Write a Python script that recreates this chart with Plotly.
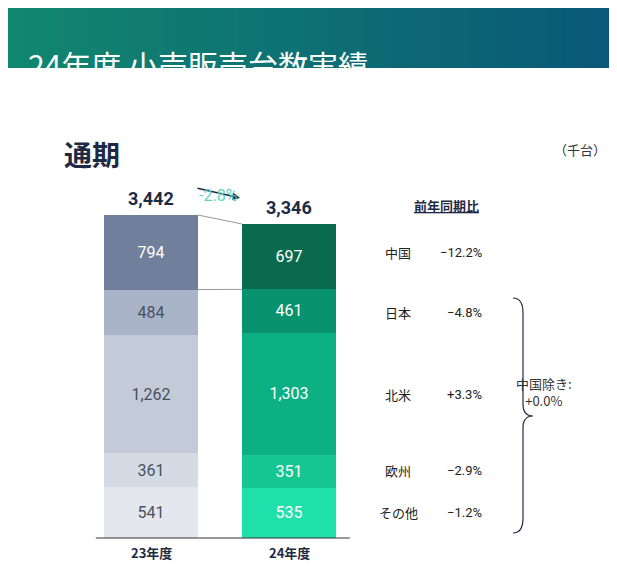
import plotly.graph_objects as go

years = ["23年度", "24年度"]
regions = ["その他", "欧州", "北米", "日本", "中国"]
v23 = [541, 361, 1262, 484, 794]
v24 = [535, 351, 1303, 461, 697]
totals = [3442, 3346]
yoy = ["−1.2%", "−2.9%", "+3.3%", "−4.8%", "−12.2%"]
c23 = ["#e4e8ee", "#d5dbe5", "#c3cbd8", "#a9b4c8", "#707f9b"]
c24 = ["#1fe0ab", "#16c792", "#0cb083", "#099270", "#0a6a4d"]
t23 = ["#4a5060", "#4a5060", "#4a5060", "#4a5060", "#ffffff"]

W, H = 617, 569
k = 323 / 3442
fig = go.Figure()
xs = [0, 1]
for i, r in enumerate(regions):
    fig.add_trace(go.Bar(x=xs, y=[v23[i], v24[i]], width=0.68,
                         marker=dict(color=[c23[i], c24[i]], line_width=0),
                         text=[f"{v23[i]:,}", f"{v24[i]:,}"], textposition="inside",
                         insidetextanchor="middle",
                         textfont=dict(size=16, color=[t23[i], "#ffffff"], family="Roboto"),
                         showlegend=False, hoverinfo="skip"))

fig.update_layout(barmode="stack", width=W, height=H, margin=dict(l=0, r=0, t=0, b=0),
                  plot_bgcolor="white", paper_bgcolor="white",
                  xaxis=dict(range=[-143/138, (W-143)/138], visible=False),
                  yaxis=dict(range=[-39/k, 530/k], visible=False),
                  font=dict(family="Noto Sans CJK JP"))

def px(x): return x / W
def py(y): return 1 - y / H

# header gradient
n = 40
c1, c2 = (18, 135, 111), (10, 88, 120)
for j in range(n):
    t = j / (n - 1)
    col = "rgb(%d,%d,%d)" % tuple(int(a + (b - a) * t) for a, b in zip(c1, c2))
    fig.add_shape(type="rect", xref="paper", yref="paper", x0=j/n, x1=(j+1)/n+0.002,
                  y0=py(60), y1=1, fillcolor=col, line_width=0, layer="below")
fig.add_annotation(xref="paper", yref="paper", x=px(18), y=py(32), xanchor="left",
                   text="24年度 小売販売台数実績", showarrow=False,
                   font=dict(size=30, color="white"))
fig.add_annotation(xref="paper", yref="paper", x=px(54), y=py(124), xanchor="left",
                   text="<b>通期</b>", showarrow=False, font=dict(size=28, color="#1e2a44"))
fig.add_annotation(xref="paper", yref="paper", x=px(600), y=py(130), xanchor="right",
                   text="（千台）", showarrow=False, font=dict(size=13, color="#333"))

# totals
for i in range(2):
    fig.add_annotation(x=xs[i], y=totals[i], yshift=17, text=f"<b>{totals[i]:,}</b>",
                       showarrow=False, font=dict(size=18, color="#1e2a44", family="Roboto"))
fig.add_annotation(xref="paper", yref="paper", x=px(232), y=py(190), ax=-44, ay=-10,
                   text="", showarrow=True, arrowhead=2,
                   arrowsize=1, arrowwidth=1.5, arrowcolor="#1e2a44")
fig.add_annotation(xref="paper", yref="paper", x=px(210), y=py(176), text="-2.8%",
                   showarrow=False, font=dict(size=16, color="#5fd3c0", family="Roboto"))

# connector lines
fig.add_shape(type="line", x0=0.34, x1=0.66, y0=totals[0], y1=totals[1],
              line=dict(color="#999", width=1))
fig.add_shape(type="line", x0=0.34, x1=0.66, y0=totals[0]-v23[4], y1=totals[1]-v24[4],
              line=dict(color="#999", width=1))
# axis line
fig.add_shape(type="line", x0=-0.4, x1=1.44, y0=0, y1=0, line=dict(color="#333", width=1))
for i in range(2):
    fig.add_annotation(x=xs[i], y=0, yshift=-14, text=f"<b>{years[i]}</b>", showarrow=False,
                       font=dict(size=13, color="#1e2a44"))

# right-side table
fig.add_annotation(xref="paper", yref="paper", x=px(473), y=py(197),
                   text="<b><u>前年同期比</u></b>", showarrow=False,
                   font=dict(size=13, color="#1e2a44"))
cum23 = 0
for i in range(5):
    mid = cum23 + v23[i] / 2
    cum23 += v23[i]
    fig.add_annotation(xref="paper", x=px(390), y=mid, text=regions[i], showarrow=False,
                       font=dict(size=13, color="#222"))
    fig.add_annotation(xref="paper", x=px(476), y=mid, text=yoy[i], showarrow=False,
                       font=dict(size=13, color="#222", family="Roboto"))

# brace
bx, top, bot, midy = 505, 290, 525, 408
path = (f"M {px(bx)},{py(top)} Q {px(bx+10)},{py(top)} {px(bx+10)},{py(top+15)} "
        f"L {px(bx+10)},{py(midy-12)} Q {px(bx+10)},{py(midy)} {px(bx+20)},{py(midy)} "
        f"Q {px(bx+10)},{py(midy)} {px(bx+10)},{py(midy+12)} "
        f"L {px(bx+10)},{py(bot-15)} Q {px(bx+10)},{py(bot)} {px(bx)},{py(bot)}")
fig.add_shape(type="path", xref="paper", yref="paper", path=path,
              line=dict(color="#1e2a44", width=1.2))
fig.add_annotation(xref="paper", yref="paper", x=px(566), y=py(404),
                   text="中国除き:<br>+0.0%", showarrow=False, align="center",
                   font=dict(size=13, color="#333"))

fig.write_html("out.html")
